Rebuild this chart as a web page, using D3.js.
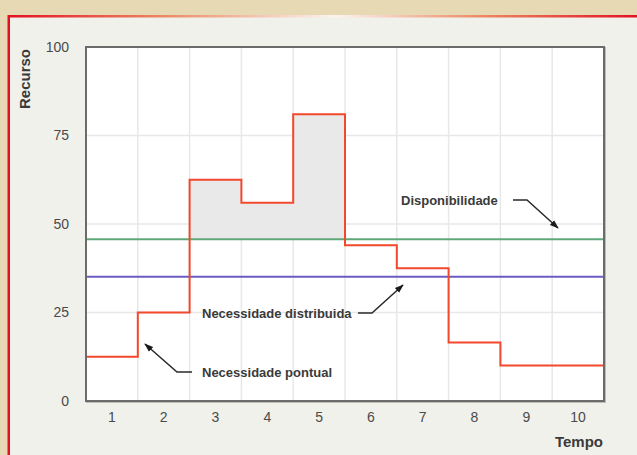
<!DOCTYPE html>
<html><head><meta charset="utf-8">
<script src="https://cdn.jsdelivr.net/npm/d3@7"></script>
<style>html,body{margin:0;padding:0;background:#e8d9b5;}svg{display:block;}</style>
</head><body>
<script>
const periods = ["1","2","3","4","5","6","7","8","9","10"];
const necessidadePontual = [12.5, 25, 62.5, 56, 81, 44, 37.5, 16.5, 10, 10];
const disponibilidade = 45.7;
const necessidadeDistribuida = 35.1;
const yTicks = [0, 25, 50, 75, 100];
const annotations = [
  {label: "Disponibilidade"},
  {label: "Necessidade distribuida"},
  {label: "Necessidade pontual"}
];

const W = 637, H = 455;
const svg = d3.select("body").append("svg").attr("width", W).attr("height", H);
const defs = svg.append("defs");

// panel
const grad = defs.append("linearGradient").attr("id","topg").attr("x1","0").attr("x2","1");
grad.append("stop").attr("offset","0").attr("stop-color","#e3111f");
grad.append("stop").attr("offset","0.25").attr("stop-color","#ec8a66");
grad.append("stop").attr("offset","0.52").attr("stop-color","#fbf5ef");
grad.append("stop").attr("offset","0.75").attr("stop-color","#ec8a66");
grad.append("stop").attr("offset","1").attr("stop-color","#e3111f");
svg.append("rect").attr("x",8).attr("y",15).attr("width",W).attr("height",H).attr("fill","#f1f1eb");
svg.append("rect").attr("x",8).attr("y",15).attr("width",W-8).attr("height",2.5).attr("fill","url(#topg)");
svg.append("rect").attr("x",7.5).attr("y",15).attr("width",2.5).attr("height",H).attr("fill","#e3111f");

const L = 86, R = 604, T = 47, B = 401;
const x = d3.scaleLinear().domain([0, 10]).range([L, R]);
const xb = d3.scaleBand().domain(periods).range([L, R]);
const y = d3.scaleLinear().domain([0, 100]).range([B, T]);

// frame shadow + plot background
svg.append("rect").attr("x",L+1).attr("y",T+1).attr("width",R-L).attr("height",B-T)
  .attr("fill","none").attr("stroke","#bdbdb8").attr("stroke-width",2);
svg.append("rect").attr("x",L).attr("y",T).attr("width",R-L).attr("height",B-T).attr("fill","#ffffff");

// grid
const g = svg.append("g");
g.selectAll(".vg").data(d3.range(1, 10)).join("line")
  .attr("x1", d => x(d)).attr("x2", d => x(d)).attr("y1", T).attr("y2", B)
  .attr("stroke", "#e8e8e8").attr("stroke-width", 1.5);
g.selectAll(".hg").data(yTicks.slice(1, -1)).join("line")
  .attr("x1", L).attr("x2", R).attr("y1", d => y(d)).attr("y2", d => y(d))
  .attr("stroke", "#e8e8e8").attr("stroke-width", 1.5);

// step data
const pts = necessidadePontual.map((v, i) => [i, v]).concat([[10, necessidadePontual[necessidadePontual.length-1]]]);

// excess area
const area = d3.area().curve(d3.curveStepAfter)
  .x(d => x(d[0])).y0(y(disponibilidade)).y1(d => y(Math.max(d[1], disponibilidade)));
svg.append("path").datum(pts).attr("d", area).attr("fill", "#e9e9e9");

// horizontal lines
svg.append("line").attr("x1", L).attr("x2", R).attr("y1", y(disponibilidade)).attr("y2", y(disponibilidade))
  .attr("stroke", "#5fa87a").attr("stroke-width", 2);
svg.append("line").attr("x1", L).attr("x2", R).attr("y1", y(necessidadeDistribuida)).attr("y2", y(necessidadeDistribuida))
  .attr("stroke", "#6a5cc4").attr("stroke-width", 2);

// step line
const line = d3.line().curve(d3.curveStepAfter).x(d => x(d[0])).y(d => y(d[1]));
svg.append("path").datum(pts).attr("d", line).attr("fill", "none")
  .attr("stroke", "#f2482c").attr("stroke-width", 2);

// frame
svg.append("rect").attr("x",L).attr("y",T).attr("width",R-L).attr("height",B-T)
  .attr("fill","none").attr("stroke","#6b6b6b").attr("stroke-width",2);

// axes
const font = "'Liberation Sans', Arial, Helvetica, sans-serif";
const yAxis = svg.append("g").attr("transform", `translate(${L},0)`)
  .call(d3.axisLeft(y).tickValues(yTicks).tickSize(0).tickPadding(17));
yAxis.select(".domain").remove();
yAxis.selectAll("text").attr("font-family", font).attr("font-size", 14).attr("fill", "#4a4a4a");

const xAxis = svg.append("g").attr("transform", `translate(0,${B})`)
  .call(d3.axisBottom(xb).tickSize(0).tickPadding(11));
xAxis.select(".domain").remove();
xAxis.selectAll("text").attr("font-family", font).attr("font-size", 14).attr("fill", "#4a4a4a");

svg.append("text").attr("x", R - 1).attr("y", 447).attr("text-anchor", "end")
  .attr("font-family", font).attr("font-weight", "bold").attr("font-size", 15).attr("fill", "#3a3a3a").text("Tempo");
svg.append("text").attr("transform", "translate(30,79) rotate(-90)").attr("text-anchor", "middle")
  .attr("font-family", font).attr("font-weight", "bold").attr("font-size", 15).attr("fill", "#3a3a3a").text("Recurso");

// annotations
defs.append("marker").attr("id","arr").attr("viewBox","0 0 10 10").attr("refX",9).attr("refY",5)
  .attr("markerWidth",9).attr("markerHeight",9).attr("markerUnits","userSpaceOnUse").attr("orient","auto")
  .append("path").attr("d","M0,1.5 L10,5 L0,8.5 Z").attr("fill","#1a1a1a");

const ann = [
  {text: annotations[0].label, tx: 401, ty: 200, path: [[513,200],[527,200],[558,228]]},
  {text: annotations[1].label, tx: 202, ty: 313, path: [[358,313],[372,313],[403,285]]},
  {text: annotations[2].label, tx: 202, ty: 372, path: [[192,372],[177,372],[145,344]]}
];
ann.forEach(a => {
  svg.append("text").attr("x", a.tx).attr("y", a.ty).attr("dy", "0.36em")
    .attr("font-family", font).attr("font-weight", "bold").attr("font-size", 13).attr("fill", "#3a3a3a").text(a.text);
  svg.append("path").attr("d", d3.line()(a.path)).attr("fill","none").attr("stroke","#2a2a2a")
    .attr("stroke-width",1.5).attr("marker-end","url(#arr)");
});
</script>
</body></html>
